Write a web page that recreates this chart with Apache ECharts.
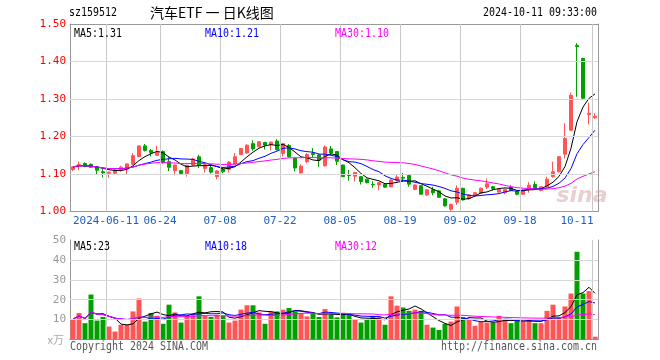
<!DOCTYPE html>
<html><head><meta charset="utf-8">
<script src="https://cdn.jsdelivr.net/npm/echarts@6/dist/echarts.min.js"></script>
<style>html,body{margin:0;padding:0;background:#fff}#c{width:660px;height:360px}</style>
</head><body><div id="c"></div>
<script>
const dates = [
'2024-05-31',
'2024-06-03','2024-06-04','2024-06-05','2024-06-06','2024-06-07',
'2024-06-11','2024-06-12','2024-06-13','2024-06-14',
'2024-06-17','2024-06-18','2024-06-19','2024-06-20','2024-06-21',
'2024-06-24','2024-06-25','2024-06-26','2024-06-27','2024-06-28',
'2024-07-01','2024-07-02','2024-07-03','2024-07-04','2024-07-05',
'2024-07-08','2024-07-09','2024-07-10','2024-07-11','2024-07-12',
'2024-07-15','2024-07-16','2024-07-17','2024-07-18','2024-07-19',
'2024-07-22','2024-07-23','2024-07-24','2024-07-25','2024-07-26',
'2024-07-29','2024-07-30','2024-07-31','2024-08-01','2024-08-02',
'2024-08-05','2024-08-06','2024-08-07','2024-08-08','2024-08-09',
'2024-08-12','2024-08-13','2024-08-14','2024-08-15','2024-08-16',
'2024-08-19','2024-08-20','2024-08-21','2024-08-22','2024-08-23',
'2024-08-26','2024-08-27','2024-08-28','2024-08-29','2024-08-30',
'2024-09-02','2024-09-03','2024-09-04','2024-09-05','2024-09-06',
'2024-09-09','2024-09-10','2024-09-11','2024-09-12','2024-09-13',
'2024-09-18','2024-09-19','2024-09-20',
'2024-09-23','2024-09-24','2024-09-25','2024-09-26','2024-09-27',
'2024-09-30',
'2024-10-08','2024-10-09','2024-10-10','2024-10-11'];

const opens = [1.112,1.122,1.128,1.126,1.119,1.106,1.102,1.102,1.109,1.114,
1.126,1.146,1.175,1.163,1.150,1.160,1.133,1.109,1.109,1.101,
1.124,1.146,1.115,1.117,1.093,1.112,1.112,1.127,1.152,1.156,
1.181,1.173,1.184,1.178,1.188,1.155,1.176,1.142,1.103,1.133,
1.155,1.151,1.122,1.167,1.160,1.124,1.098,1.094,1.093,1.086,
1.072,1.071,1.073,1.066,1.082,1.091,1.096,1.059,1.069,1.044,
1.058,1.055,1.034,1.006,1.025,1.062,1.034,1.043,1.049,1.065,
1.066,1.052,1.050,1.064,1.053,1.046,1.062,1.072,1.056,1.066,
1.093,1.106,1.153,1.217,1.443,1.408,1.258,1.250];
const closes = [1.119,1.125,1.121,1.118,1.110,1.103,1.105,1.110,1.118,1.127,
1.149,1.175,1.163,1.157,1.158,1.130,1.118,1.124,1.101,1.123,
1.140,1.123,1.125,1.105,1.108,1.106,1.132,1.146,1.168,1.177,
1.167,1.186,1.177,1.185,1.165,1.181,1.146,1.116,1.121,1.152,
1.152,1.137,1.172,1.156,1.134,1.093,1.096,1.104,1.080,1.077,
1.071,1.077,1.065,1.084,1.092,1.089,1.073,1.071,1.046,1.058,
1.050,1.038,1.015,1.019,1.062,1.031,1.044,1.050,1.062,1.074,
1.061,1.059,1.059,1.056,1.046,1.057,1.070,1.063,1.066,1.086,
1.106,1.146,1.195,1.310,1.440,1.302,1.262,1.254];
const highs = [1.121,1.133,1.131,1.128,1.121,1.113,1.107,1.112,1.122,1.128,
1.156,1.176,1.180,1.167,1.175,1.163,1.145,1.125,1.111,1.125,
1.143,1.151,1.127,1.125,1.110,1.116,1.134,1.156,1.170,1.179,
1.190,1.188,1.186,1.187,1.193,1.183,1.180,1.143,1.126,1.156,
1.169,1.153,1.176,1.175,1.161,1.125,1.111,1.106,1.094,1.088,
1.081,1.078,1.075,1.086,1.100,1.103,1.098,1.072,1.070,1.060,
1.066,1.057,1.036,1.021,1.070,1.063,1.046,1.052,1.064,1.088,
1.068,1.062,1.061,1.070,1.055,1.060,1.078,1.080,1.068,1.093,
1.133,1.148,1.235,1.317,1.449,1.410,1.290,1.262];
const lows = [1.108,1.110,1.118,1.116,1.099,1.091,1.090,1.100,1.106,1.100,
1.124,1.145,1.160,1.147,1.148,1.128,1.108,1.096,1.099,1.093,
1.122,1.116,1.104,1.101,1.086,1.102,1.104,1.125,1.150,1.154,
1.162,1.171,1.165,1.163,1.163,1.147,1.144,1.107,1.101,1.129,
1.143,1.119,1.120,1.151,1.124,1.092,1.082,1.080,1.072,1.075,
1.063,1.057,1.063,1.064,1.080,1.079,1.066,1.057,1.045,1.042,
1.043,1.036,1.013,1.002,1.018,1.029,1.032,1.041,1.047,1.060,
1.056,1.050,1.046,1.054,1.043,1.044,1.050,1.060,1.054,1.064,
1.090,1.104,1.142,1.215,1.306,1.298,1.232,1.247];
const volumes = [10.3,13.3,8.2,22.6,9.5,11.3,6.5,4.0,7.4,7.4,
14.1,20.6,9.0,13.3,11.9,7.9,17.5,13.6,8.5,11.9,
12.9,21.7,11.9,11.3,12.4,11.9,8.5,9.5,15.0,17.2,
17.2,13.6,7.9,14.1,14.1,15.0,15.8,14.1,13.3,11.6,
12.9,11.3,15.3,12.4,11.1,12.4,12.4,9.9,8.5,10.3,
11.9,11.3,7.4,21.7,17.0,16.1,14.4,15.0,14.4,7.4,
6.0,4.8,7.9,9.0,16.6,11.3,10.3,6.9,9.0,8.5,
8.5,11.9,10.3,8.2,9.5,9.5,10.3,8.2,8.2,14.4,
17.5,11.0,16.6,23.1,44.1,23.1,24.3,1.4];
const tickDates = ['2024-06-11','2024-06-24','2024-07-08','2024-07-22','2024-08-05','2024-08-19','2024-09-02','2024-09-18','2024-10-11'];
const priceTicks = [1.0, 1.1, 1.2, 1.3, 1.4, 1.5];
const volTicks = [0, 10, 20, 30, 40, 50];
const maPeriods = [5, 10, 30];
const maColors = ['#000000', '#0000ff', '#ff00ff'];

const RED = '#ff5555', GREEN = '#00a000';
const MONO = '"DejaVu Sans Mono", "Liberation Mono", monospace';

function movingAverage(arr, n) {
  return arr.map((_, i) => {
    const s = Math.max(0, i - n + 1);
    let sum = 0;
    for (let k = s; k <= i; k++) sum += arr[k];
    return sum / (i - s + 1);
  });
}
const priceMA = maPeriods.map(n => movingAverage(closes, n));
const volMA = maPeriods.map(n => movingAverage(volumes, n));
const last = dates.length - 1;

const candleData = dates.map((d, i) => [opens[i], closes[i], lows[i], highs[i]]);
const volData = volumes.map((v, i) => ({ value: v, itemStyle: { color: closes[i] >= opens[i] ? RED : GREEN } }));

const isTick = (idx) => tickDates.indexOf(dates[idx]) >= 0;
const tickIdx = tickDates.map(d => dates.indexOf(d));

function txt(x, y, text, color, align, size, sx, family) {
  return { type: 'text', x: x, y: y, scaleX: sx || 1, z: 100,
    style: { text: text, fill: color, font: size + 'px ' + (family || MONO), textAlign: align, textVerticalAlign: 'middle' } };
}
const SX = 0.766;
const graphics = [
  txt(69, 13, 'sz159512', '#000', 'left', 13, SX),
  txt(150, 13, '汽车ETF 一 日K线图', '#000', 'left', 14, 1, '"Noto Sans CJK SC"'),
  txt(597, 13, '2024-10-11 09:33:00', '#000', 'right', 13, SX),
  txt(74, 34, 'MA5:' + (Math.floor(priceMA[0][last] * 100) / 100).toFixed(2), maColors[0], 'left', 13, SX),
  txt(205, 34, 'MA10:' + (Math.floor(priceMA[1][last] * 100) / 100).toFixed(2), maColors[1], 'left', 13, SX),
  txt(335, 34, 'MA30:' + (Math.floor(priceMA[2][last] * 100) / 100).toFixed(2), maColors[2], 'left', 13, SX),
  txt(74, 247, 'MA5:' + Math.floor(volMA[0][last]), maColors[0], 'left', 13, SX),
  txt(205, 247, 'MA10:' + Math.floor(volMA[1][last]), maColors[1], 'left', 13, SX),
  txt(335, 247, 'MA30:' + Math.floor(volMA[2][last]), maColors[2], 'left', 13, SX),
  txt(64, 340, 'x万', '#aaa', 'right', 11, 1, '"Noto Sans CJK SC"'),
  txt(70, 347, 'Copyright 2024 SINA.COM', '#555', 'left', 13, SX),
  txt(597, 347, 'http://finance.sina.com.cn', '#555', 'right', 13, SX),
  { type: 'text', x: 582, y: 196, z: 1,
    style: { text: 'sina', fill: 'rgba(205,150,150,0.45)', font: 'italic bold 22px "DejaVu Sans"', textAlign: 'center', textVerticalAlign: 'middle' } }
];

const frameLine = { show: true, lineStyle: { color: '#999999', width: 1 } };

function frameX(gi, pos) {
  return { type: 'category', gridIndex: gi, position: pos, data: dates, boundaryGap: true,
    axisLine: frameLine, axisTick: { show: false }, axisLabel: { show: false }, splitLine: { show: false } };
}
function frameY(gi, pos, mn, mx) {
  return { type: 'value', gridIndex: gi, position: pos, min: mn, max: mx,
    axisLine: frameLine, axisTick: { show: false }, axisLabel: { show: false }, splitLine: { show: false } };
}
// value axis spanning the category bands: band i covers [i, i+1]; grid lines sit on band left edges
function bandX(gi) {
  return { type: 'value', gridIndex: gi, min: 0, max: dates.length, show: false };
}
function gridLines(xi, yi, yTicks, y0) {
  const vert = tickIdx.map(i => ({ xAxis: i, lineStyle: { color: '#c8c8c8', type: 'solid', width: 1 } }));
  const horiz = yTicks.slice(1, -1).map(v => ({ yAxis: v, lineStyle: { color: '#d8d8d8', type: 'solid', width: 1 } }));
  return { type: 'line', xAxisIndex: xi, yAxisIndex: yi, data: [[0, y0]], symbol: 'none',
    lineStyle: { opacity: 0 }, silent: true, z: 1,
    markLine: { symbol: ['none', 'none'], silent: true, label: { show: false }, animation: false,
      emphasis: { disabled: true }, data: vert.concat(horiz) } };
}

const chart = echarts.init(document.getElementById('c'), null, { renderer: 'canvas' });
chart.setOption({
  animation: false,
  grid: [
    { left: 70, top: 24, width: 528, height: 187.5, show: false, containLabel: false },
    { left: 70, top: 240, width: 528, height: 99.5, show: false, containLabel: false }
  ],
  xAxis: [
    { type: 'category', gridIndex: 0, position: 'bottom', data: dates, boundaryGap: true,
      axisLine: frameLine, axisTick: { show: false },
      axisLabel: { show: true, interval: (idx) => isTick(idx), margin: 4, hideOverlap: false,
        formatter: (val, idx) => {
          const s = val === tickDates[0] ? val : val.slice(5);
          return (val === dates[last] ? '{e|' : '{a|') + s + '}';
        },
        rich: {
          a: { color: '#2060c0', fontSize: 11, fontFamily: MONO, padding: [0, 6, 0, 0] },
          e: { color: '#2060c0', fontSize: 11, fontFamily: MONO, padding: [0, 36, 0, 0] }
        } },
      splitLine: { show: false } },
    { type: 'category', gridIndex: 1, position: 'bottom', data: dates, boundaryGap: true,
      axisLine: frameLine, axisTick: { show: false }, axisLabel: { show: false }, splitLine: { show: false } },
    frameX(0, 'top'),
    frameX(1, 'top'),
    bandX(0),
    bandX(1)
  ],
  yAxis: [
    { type: 'value', gridIndex: 0, position: 'left', min: priceTicks[0], max: priceTicks[priceTicks.length - 1], interval: 0.1,
      axisLine: frameLine, axisTick: { show: false },
      axisLabel: { color: '#ff0000', fontSize: 11, fontFamily: MONO, margin: 4, formatter: v => v.toFixed(2) },
      splitLine: { show: false } },
    { type: 'value', gridIndex: 1, position: 'left', min: volTicks[0], max: volTicks[volTicks.length - 1], interval: 10,
      axisLine: frameLine, axisTick: { show: false },
      axisLabel: { color: '#999', fontSize: 11, fontFamily: MONO, margin: 4, formatter: v => v === 0 ? '' : String(v) },
      splitLine: { show: false } },
    frameY(0, 'right', priceTicks[0], priceTicks[priceTicks.length - 1]),
    frameY(1, 'right', volTicks[0], volTicks[volTicks.length - 1])
  ],
  series: [
    gridLines(4, 0, priceTicks, 1.0),
    gridLines(5, 1, volTicks, 0),
    { name: 'K', type: 'candlestick', xAxisIndex: 0, yAxisIndex: 0, data: candleData, barWidth: 4,
      itemStyle: { color: RED, color0: GREEN, borderColor: RED, borderColor0: GREEN, borderWidth: 1 }, z: 3 },
    ...maPeriods.map((n, k) => ({ name: 'MA' + n, type: 'line', xAxisIndex: 0, yAxisIndex: 0,
      data: priceMA[k].map(v => +v.toFixed(4)), symbol: 'none', smooth: false,
      lineStyle: { color: maColors[k], width: 1 }, z: 4, silent: true })),
    { name: 'VOL', type: 'bar', xAxisIndex: 1, yAxisIndex: 1, data: volData, barWidth: 5, z: 3 },
    ...maPeriods.map((n, k) => ({ name: 'VMA' + n, type: 'line', xAxisIndex: 1, yAxisIndex: 1,
      data: volMA[k].map(v => +v.toFixed(3)), symbol: 'none', smooth: false,
      lineStyle: { color: maColors[k], width: 1 }, z: 4, silent: true }))
  ],
  graphic: graphics
});
</script>
</body></html>
